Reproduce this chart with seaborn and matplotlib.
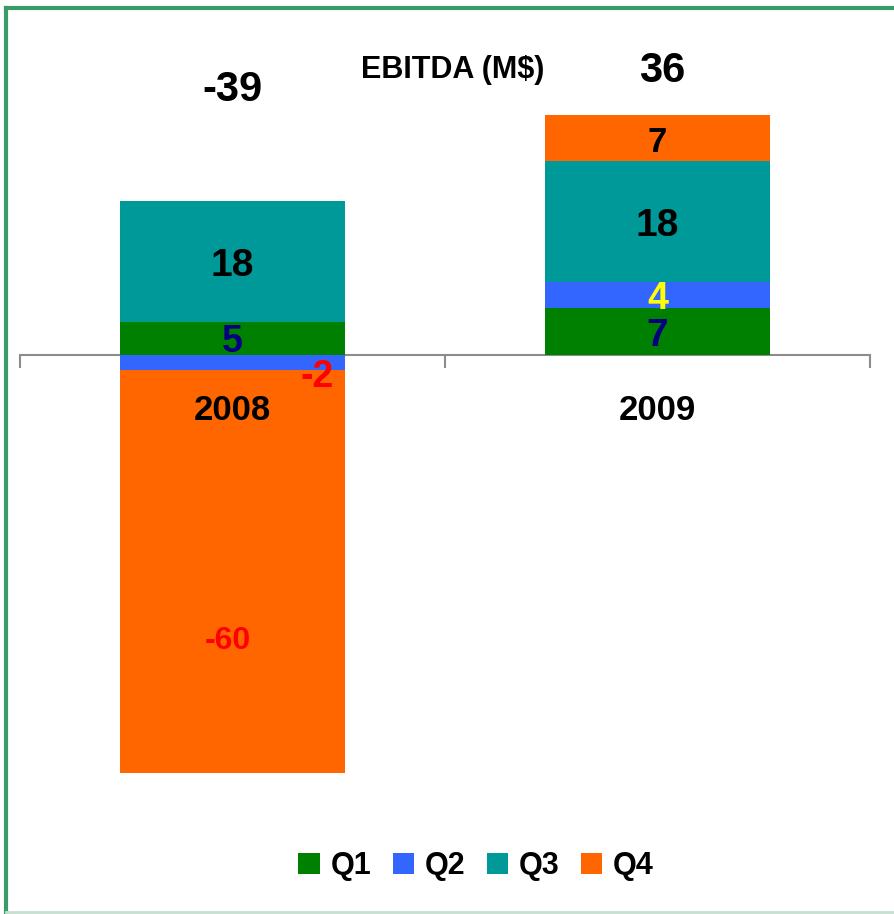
import matplotlib
matplotlib.use("Agg")
import matplotlib.pyplot as plt
import seaborn as sns
import pandas as pd
from matplotlib.patches import Patch
from matplotlib.lines import Line2D

# ---------------- data ----------------
years = ["2008", "2009"]
quarters = ["Q1", "Q2", "Q3", "Q4"]
q1 = [5, 7]
q2 = [-2.3, 4]
q3 = [18, 18]
q4 = [-60.4, 7]
totals = [-39, 36]
title_text = "EBITDA (M$)"

# ---------------- styles ----------------
bar_colors = {"Q1": "#008000", "Q2": "#3366FF", "Q3": "#009999", "Q4": "#FF6600"}
label_colors = {
    ("2008", "Q1"): "#000080", ("2008", "Q2"): "#FF0000",
    ("2008", "Q3"): "#000000", ("2008", "Q4"): "#FF0000",
    ("2009", "Q1"): "#000080", ("2009", "Q2"): "#FFFF00",
    ("2009", "Q3"): "#000000", ("2009", "Q4"): "#000000",
}
label_sizes = {
    ("2008", "Q1"): 27, ("2008", "Q2"): 27, ("2008", "Q3"): 28, ("2008", "Q4"): 23,
    ("2009", "Q1"): 28, ("2009", "Q2"): 27, ("2009", "Q3"): 28, ("2009", "Q4"): 25,
}
label_offsets = {("2008", "Q2"): (0.20, -1.5), ("2008", "Q4"): (-0.01, -9.8)}
label_shift = -0.6
total_y = [39.7, 42.5]
total_dx = [0.0, 0.01]

FONT = ["Liberation Sans", "Arial", "DejaVu Sans"]
plt.rcParams["font.family"] = FONT

values = {"Q1": q1, "Q2": q2, "Q3": q3, "Q4": q4}

# stacking (positives up, negatives down)
segments = []  # (year_idx, quarter, bottom, top, value)
for i, yr in enumerate(years):
    pos, neg = 0.0, 0.0
    for q in quarters:
        v = values[q][i]
        if v >= 0:
            segments.append((i, q, pos, pos + v, v))
            pos += v
        else:
            segments.append((i, q, neg, neg + v, v))
            neg += v

fig = plt.figure(figsize=(8.94, 9.14), dpi=100)
ax = fig.add_axes([20 / 894, 84 / 914, 850 / 894, 810 / 914])

# draw cumulative ends in reverse quarter order so inner segments overlay
for q in reversed(quarters):
    ends = [s[3] for s in segments if s[1] == q]
    df = pd.DataFrame({"year": years, "end": ends})
    sns.barplot(data=df, x="year", y="end", color=bar_colors[q], saturation=1,
                width=0.53, linewidth=0, edgecolor="none", ax=ax, zorder=3,
                errorbar=None)

# segment labels
for (i, q, b, t, v) in segments:
    key = (years[i], q)
    dx, dy = label_offsets.get(key, (0, 0))
    ax.text(i + dx, (b + t) / 2 + dy + label_shift, f"{v:.0f}", ha="center",
            va="center", color=label_colors[key], fontsize=label_sizes[key],
            fontweight="bold", zorder=6)

# totals
for i, tot in enumerate(totals):
    ax.text(i + total_dx[i], total_y[i], f"{tot:d}", ha="center", va="center",
            fontsize=30, fontweight="bold", zorder=6)

# year labels
for i, yr in enumerate(years):
    ax.text(i, -8.3, yr, ha="center", va="center", fontsize=25,
            fontweight="bold", zorder=6)

ax.set_xlim(-0.5, 1.5)
ax.set_ylim(-71.2, 50.2)
ax.set_xlabel("")
ax.set_ylabel("")
ax.set_yticks([])
for s in ["top", "right", "left"]:
    ax.spines[s].set_visible(False)
ax.spines["bottom"].set_position(("data", 0))
ax.spines["bottom"].set_color("#8C8C8C")
ax.spines["bottom"].set_linewidth(1.5)
ax.spines["bottom"].set_zorder(2)
ax.tick_params(axis="x", which="major", length=0, labelbottom=False)
ax.set_xticks([-0.5, 0.5, 1.5], minor=True)
ax.tick_params(axis="x", which="minor", length=9, width=1.5, color="#8C8C8C",
               direction="out")
ax.patch.set_alpha(0)

# title
fig.text(453 / 894, 1 - 70 / 914, title_text, ha="center", va="center",
         fontsize=22, fontweight="bold")

# legend
handles = [Patch(facecolor=bar_colors[q], edgecolor="none") for q in quarters]
fig.legend(handles, quarters, loc="center", bbox_to_anchor=(476 / 894, 1 - 866 / 914),
           ncol=4, frameon=False,
           prop={"weight": "bold", "size": 22},
           handlelength=0.7, handleheight=0.7, handletextpad=0.35,
           columnspacing=0.7)

# frame lines
fig.add_artist(Line2D([6 / 894, 6 / 894], [0, 1 - 8 / 914], transform=fig.transFigure,
                      color="#3A9A68", lw=3))
fig.add_artist(Line2D([6 / 894, 1], [1 - 8 / 914, 1 - 8 / 914], transform=fig.transFigure,
                      color="#3A9A68", lw=3))
fig.add_artist(Line2D([6 / 894, 1], [2 / 914, 2 / 914], transform=fig.transFigure,
                      color="#C5DFD0", lw=2))

fig.savefig("out.png", dpi=100, facecolor="white")
